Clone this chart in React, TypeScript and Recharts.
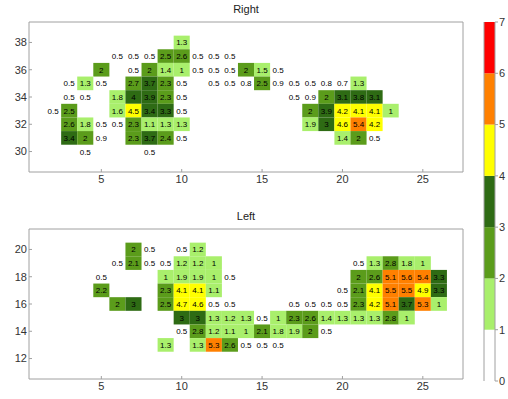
import React from 'react';
import { ScatterChart, Scatter, XAxis, YAxis, BarChart, Bar } from 'recharts';

// each row: [y, first x, values from that x on; null = empty cell]
type Row = [number, number, (number | null)[]];

const rightRows: Row[] = [
  [38, 10, [1.3]],
  [37, 6, [0.5, 0.5, 0.5, 2.5, 2.6, 0.5, 0.5, 0.5]],
  [36, 5, [2, null, 0.5, 2, 1.4, 1, 0.5, 0.5, 0.5, 2, 1.5, 0.5]],
  [35, 3, [0.5, 1.3, 0.5, null, 2.7, 3.7, 2.3, 0.5, null, 0.5, 0.5, 0.8, 2.5, 0.9, 0.5, 0.5, 0.8, 0.7, 1.3]],
  [34, 3, [0.5, 0.5, null, 1.8, 3.96, 3.9, 2.3, 0.5, null, null, null, null, null, null, 0.5, 0.9, 2, 3.1, 3.8, 3.1]],
  [33, 2, [0.5, 2.5, null, null, 1.6, 4.5, 3.4, 3.3, 0.5, null, null, null, null, null, null, null, 2, 3.9, 4.2, 4.1, 4.1, 1]],
  [32, 3, [2.6, 1.8, 0.5, 0.5, 2.3, 1.1, 1.3, 1.3, null, null, null, null, null, null, null, 1.9, 3, 4.6, 5.4, 4.2]],
  [31, 3, [3.4, 2, 0.9, null, 2.3, 3.7, 2.4, 0.5, null, null, null, null, null, null, null, null, null, 1.4, 2, 0.5]],
  [30, 4, [0.5, null, null, null, 0.5]],
];

const leftRows: Row[] = [
  [20, 7, [2, 0.5, null, 0.5, 1.2]],
  [19, 6, [0.5, 2.1, 0.5, 0.5, 1.2, 1.2, 1, null, null, null, null, null, null, null, null, 0.5, 1.3, 2.8, 1.8, 1]],
  [18, 5, [0.5, null, null, null, 1, 1.9, 1.9, 1, 0.5, null, null, null, null, null, null, null, 2, 2.6, 5.1, 5.6, 5.4, 3.3]],
  [17, 5, [2.2, null, null, null, 2.3, 4.1, 4.1, 1.1, null, null, null, null, null, null, null, 0.5, 2.1, 4.1, 5.5, 5.5, 4.9, 3.3]],
  [16, 6, [2, 3, null, 2.5, 4.7, 4.6, 0.5, 0.5, null, null, null, 0.5, 0.5, 0.5, 0.5, 2.3, 4.2, 5.1, 3.7, 5.3, 1]],
  [15, 10, [3, 3, 1.3, 1.2, 1.3, 0.5, 1, 2.3, 2.6, 1.4, 1.3, 1.3, 1.3, 2.8, 1]],
  [14, 10, [0.5, 2.8, 1.2, 1.1, 1, 2.1, 1.8, 1.9, 2, 0.5]],
  [13, 9, [1.3, null, 1.3, 5.3, 2.6, 0.5, 0.5, 0.5]],
];

const xTicks = [5, 10, 15, 20, 25];
const rightYTicks = [30, 32, 34, 36, 38];
const leftYTicks = [12, 14, 16, 18, 20];
const colorTicks = [0, 1, 2, 3, 4, 5, 6, 7];
const bandColors = ['#ffffff', '#a9ef6c', '#5b9c1b', '#2e6b14', '#ffff00', '#ff8000', '#ff0000'];

const FONT = '"Liberation Sans", Arial, sans-serif';
const AXIS = '#a0a0a0';
const TXT = '#333';

const toCells = (rows: Row[]) =>
  rows.flatMap(([y, x0, vals]) =>
    vals.map((v, i) => (v == null ? null : { x: x0 + i, y, v })).filter(Boolean) as { x: number; y: number; v: number }[]
  );

const fmt = (v: number) => String(Math.round(v * 10) / 10);
const colorOf = (v: number) => (v < 1 ? null : bandColors[Math.min(6, Math.floor(v))]);

const EmptyTick = () => <g />;

const Panel = ({ rows, yDomain, yTicks, height, bottom }: any) => {
  const cells = toCells(rows);
  const plotW = 508 - 44 - 1 - 29;
  const plotH = height - 22 - 20 - bottom;
  const cw = plotW / 27;
  const ch = plotH / (yDomain[1] - yDomain[0]);

  const RectShape = (p: any) => {
    const fill = colorOf(p.payload.v);
    if (!fill) return <g />;
    return <rect x={p.cx - cw / 2} y={p.cy - ch / 2} width={cw} height={ch} fill={fill} />;
  };
  const TextShape = (p: any) => (
    <text x={p.cx} y={p.cy + 3} textAnchor="middle" fontSize={8} fill="#000" fontFamily={FONT}>
      {fmt(p.payload.v)}
    </text>
  );

  return (
    <ScatterChart width={508} height={height} margin={{ top: 21, right: 44, bottom: bottom, left: 0 }}>
      <XAxis
        xAxisId="b" type="number" dataKey="x" domain={[0.5, 27.5]} ticks={xTicks} interval={0}
        height={20} tickSize={-3} tickMargin={6} stroke={AXIS}
        tick={{ fill: TXT, fontSize: 11, fontFamily: FONT }}
      />
      <XAxis
        xAxisId="t" orientation="top" type="number" dataKey="x" domain={[0.5, 27.5]} ticks={xTicks} interval={0}
        height={1} tickSize={-3} stroke={AXIS} tick={EmptyTick}
      />
      <YAxis
        yAxisId="l" type="number" dataKey="y" domain={yDomain} ticks={yTicks} interval={0}
        width={29} tickSize={-3} tickMargin={5} stroke={AXIS}
        tick={{ fill: TXT, fontSize: 11, fontFamily: FONT }}
      />
      <YAxis
        yAxisId="r" orientation="right" type="number" dataKey="y" domain={yDomain} ticks={yTicks} interval={0}
        width={1} tickSize={-3} stroke={AXIS} tick={EmptyTick}
      />
      <Scatter data={cells} xAxisId="b" yAxisId="l" shape={RectShape} isAnimationActive={false} />
      <Scatter data={cells} xAxisId="b" yAxisId="l" shape={TextShape} isAnimationActive={false} />
    </ScatterChart>
  );
};

const colorData = [
  bandColors.reduce((o: any, _c, i) => ({ ...o, ['b' + i]: colorTicks[i + 1] - colorTicks[i] }), { name: 'c' }),
];

export default function App() {
  return (
    <div style={{ position: 'absolute', left: 0, top: 0, width: 508, height: 399, background: '#fff', fontFamily: FONT }}>
      <div style={{ position: 'absolute', left: 29, width: 434, top: 3, textAlign: 'center', fontSize: 11, color: '#222' }}>Right</div>
      <div style={{ position: 'absolute', left: 29, width: 434, top: 210, textAlign: 'center', fontSize: 11, color: '#222' }}>Left</div>

      <div style={{ position: 'absolute', left: 0, top: 0 }}>
        <Panel rows={rightRows} yDomain={[28.5, 39.5]} yTicks={rightYTicks} height={199} bottom={7} />
      </div>
      <div style={{ position: 'absolute', left: 0, top: 207 }}>
        <Panel rows={leftRows} yDomain={[10.5, 21.5]} yTicks={leftYTicks} height={192} bottom={0} />
      </div>

      <div style={{ position: 'absolute', left: 470, top: 0 }}>
        <BarChart width={38} height={399} data={colorData} margin={{ top: 22, right: 0, bottom: 18, left: 13 }}
          barCategoryGap={0} barGap={0}>
          <XAxis dataKey="name" hide />
          <YAxis yAxisId="l" orientation="left" width={1} domain={[0, 7]} ticks={colorTicks}
            tick={false} tickLine={false} stroke={AXIS} />
          <YAxis yAxisId="r" orientation="right" width={13} domain={[0, 7]} ticks={colorTicks} interval={0}
            tickSize={3} tickMargin={1} stroke={AXIS}
            tick={{ fill: TXT, fontSize: 11, fontFamily: FONT, textAnchor: 'start' }} />
          {bandColors.map((c, i) => (
            <Bar key={i} yAxisId="r" dataKey={'b' + i} stackId="a" fill={c} isAnimationActive={false} />
          ))}
        </BarChart>
      </div>
    </div>
  );
}
